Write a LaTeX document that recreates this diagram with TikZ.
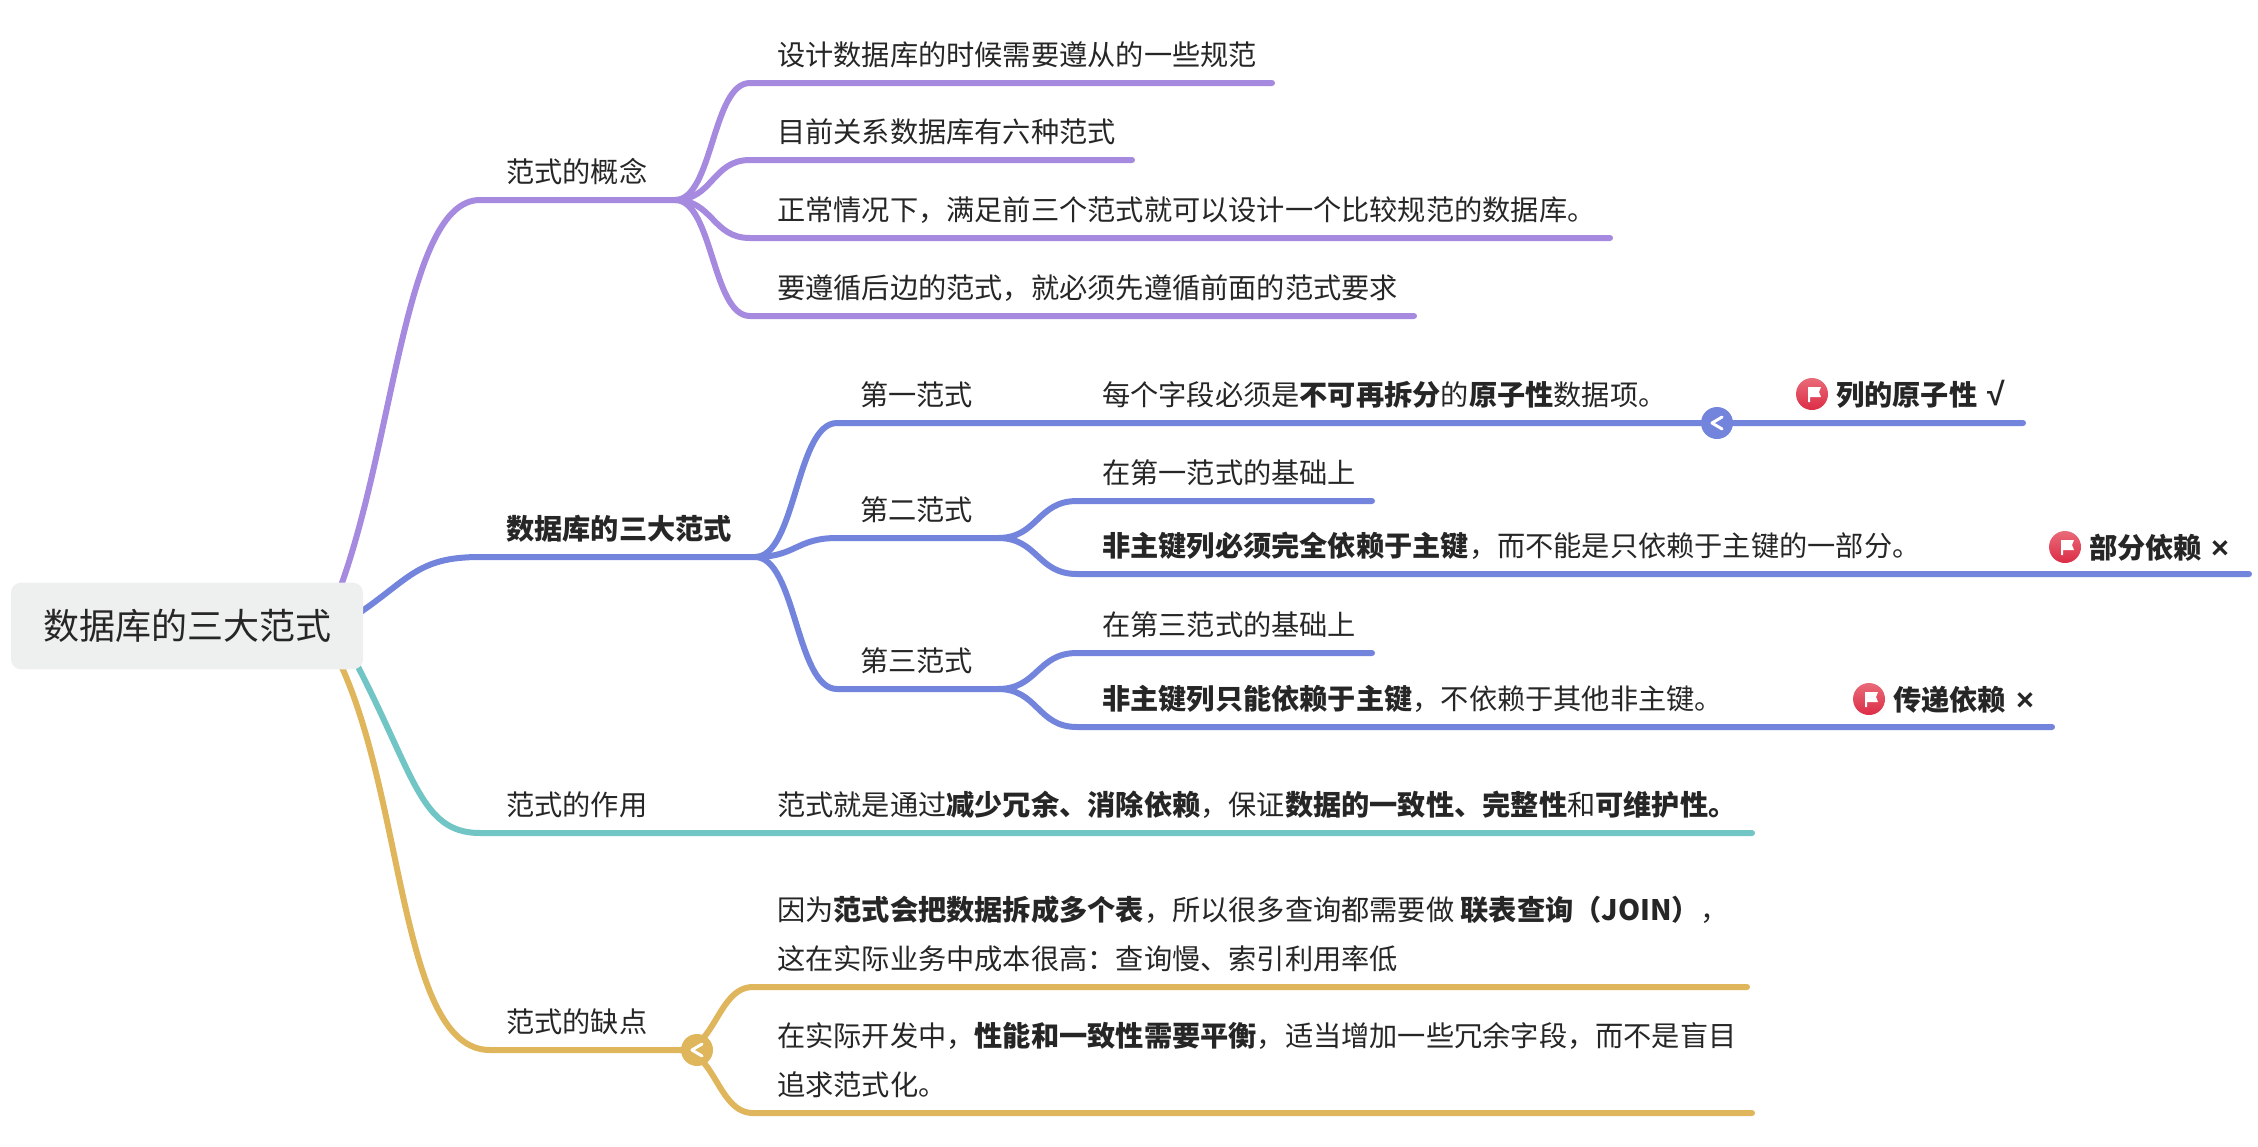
\documentclass[tikz,border=0pt]{standalone}
\usepackage{fontspec}
\setmainfont{Noto Sans CJK SC}
\newfontfamily\markfont{Liberation Sans}
\usetikzlibrary{backgrounds}
\definecolor{purpleline}{HTML}{A58ADF}
\definecolor{blueline}{HTML}{7284DC}
\definecolor{tealline}{HTML}{71C5C5}
\definecolor{goldline}{HTML}{DFB65C}
\definecolor{rootfill}{HTML}{EEF0F0}
\definecolor{inkcolor}{HTML}{262626}
\definecolor{flagtop}{HTML}{E96B79}
\definecolor{flagbottom}{HTML}{DC2C46}
\tikzset{
    branch/.style={line width=4.5pt, line cap=round},
    label/.style={anchor=base west, inner sep=0pt, text=inkcolor, font=\fontsize{21.16}{36.75}\selectfont},
    rootbox/.style={fill=rootfill, rounded corners=7.5pt, minimum width=264pt, minimum height=65pt, inner sep=0pt, text=inkcolor, font=\fontsize{27}{27}\selectfont},
    foldbutton/.style={circle, minimum size=24pt, inner sep=0pt},
    chevron/.style={white, line width=2.2pt, line cap=round, line join=round},
    flagbadge/.style={circle, minimum size=24pt, inner sep=0pt, top color=flagtop, bottom color=flagbottom},
}
\begin{document}
\begin{tikzpicture}[x=0.75pt, y=-0.75pt]
    \useasboundingbox (0,0) rectangle (2258,1146);

    % Root and fold buttons
    \node[rootbox] (root) at (187,626) {数据库的三大范式};
    \node[foldbutton, fill=blueline] (foldFirst) at (1717,423) {};
    \node[foldbutton, fill=goldline] (foldWeak) at (697,1050) {};
    \foreach \fold in {foldFirst, foldWeak} {
        \draw[chevron] ([shift={(3.8pt,-4.5pt)}]\fold.center) -- ([shift={(-3.8pt,0pt)}]\fold.center) -- ([shift={(3.8pt,4.5pt)}]\fold.center);
    }

    \begin{pgfonlayer}{background}
    % Concept branch
    \coordinate (junctionConcept) at (675,200);
    \draw[branch, purpleline] ([shift={(-18pt,-6pt)}]root.north east) .. controls (395,440) and (405,200) .. (480,200) -- (junctionConcept);
    \node[label] (concept) at (506,182) {范式的概念};
    \foreach \name/\ypos/\xend/\txt in {
        conceptA/83/1272/{设计数据库的时候需要遵从的一些规范},
        conceptB/160/1132/{目前关系数据库有六种范式},
        conceptC/238/1610/{正常情况下，满足前三个范式就可以设计一个比较规范的数据库。},
        conceptD/316/1414/{要遵循后边的范式，就必须先遵循前面的范式要求}} {
        \coordinate (s\name) at (750,\ypos);
        \coordinate (e\name) at (\xend,\ypos);
        \draw[branch, purpleline] (junctionConcept) .. controls +(38,0) and +(-38,0) .. (s\name) -- (e\name);
        \node[label] (\name) at (777,{\ypos-18}) {\txt};
    }

    % Three forms branch
    \coordinate (junctionForms) at (755,557);
    \draw[branch, blueline] ([shift={(-10pt,5pt)}]root.east) .. controls (410,580) and (415,557) .. (480,557) -- (junctionForms);
    \node[label] (forms) at (506,539) {\textbf{数据库的三大范式}};

    \coordinate (startFirst) at (837,423);
    \coordinate (endFirst) at (2023,423);
    \draw[branch, blueline] (junctionForms) .. controls +(41,0) and +(-41,0) .. (startFirst) -- (foldFirst) -- (endFirst);
    \node[label] (first) at (860,405) {第一范式};
    \node[label] (firstText) at (1102,405) {每个字段必须是\textbf{不可再拆分}的\textbf{原子性}数据项。};

    \foreach \name/\ypos/\txt in {second/538/第二范式, third/689/第三范式} {
        \coordinate (start\name) at (837,\ypos);
        \coordinate (junction\name) at (998,\ypos);
        \draw[branch, blueline] (junctionForms) .. controls +(41,0) and +(-41,0) .. (start\name) -- (junction\name);
        \node[label] (\name) at (860,{\ypos-18}) {\txt};
    }
    \foreach \name/\parent/\ypos/\xend/\txt in {
        secondA/second/501/1372/{在第一范式的基础上},
        secondB/second/574/2249/{\textbf{非主键列必须完全依赖于主键}，而不能是只依赖于主键的一部分。},
        thirdA/third/653/1372/{在第三范式的基础上},
        thirdB/third/727/2052/{\textbf{非主键列只能依赖于主键}，不依赖于其他非主键。}} {
        \coordinate (s\name) at (1077,\ypos);
        \coordinate (e\name) at (\xend,\ypos);
        \draw[branch, blueline] (junction\parent) .. controls +(40,0) and +(-40,0) .. (s\name) -- (e\name);
        \node[label] (\name) at (1102,{\ypos-18}) {\txt};
    }

    % Role branch
    \coordinate (startRole) at (480,833);
    \coordinate (endRole) at (1752,833);
    \draw[branch, tealline] ([shift={(-8pt,10pt)}]root.south east) .. controls (415,775) and (420,833) .. (startRole) -- (endRole);
    \node[label] (role) at (506,815) {范式的作用};
    \node[label] (roleText) at (777,815) {范式就是通过\textbf{减少冗余、消除依赖}，保证\textbf{数据的一致性、完整性}和\textbf{可维护性。}};

    % Weakness branch
    \coordinate (junctionWeak) at (680,1050);
    \draw[branch, goldline] ([shift={(-18pt,6pt)}]root.south east) .. controls (405,800) and (400,1050) .. (490,1050) -- (foldWeak);
    \node[label] (weak) at (506,1032) {范式的缺点};
    \foreach \name/\ypos/\xend/\txt in {
        weakA/987/1747/{因为\textbf{范式会把数据拆成多个表}，所以很多查询都需要做 \textbf{联表查询（JOIN）}，\\这在实际业务中成本很高：查询慢、索引利用率低},
        weakB/1113/1752/{在实际开发中，\textbf{性能和一致性需要平衡}，适当增加一些冗余字段，而不是盲目\\追求范式化。}} {
        \coordinate (s\name) at (753,\ypos);
        \coordinate (e\name) at (\xend,\ypos);
        \draw[branch, goldline] (junctionWeak) .. controls +(35,0) and +(-35,0) .. (s\name) -- (e\name);
        \node[label, align=left, anchor=south west] (\name) at (777,{\ypos-15}) {\txt};
    }
    \end{pgfonlayer}

    % Flag badges with their tags
    \foreach \name/\xpos/\ypos/\word/\sign/\signsize/\xsign in {
        atomic/1812/394/列的原子性/√/24/1996,
        partial/2065/547/部分依赖/×/23/2220,
        transit/1869/699/传递依赖/×/23/2025} {
        \node[flagbadge] (flag\name) at (\xpos,\ypos) {};
        \fill[white] ([shift={(-3pt,5.25pt)}]flag\name.center) -- ++(9.75pt,0pt) -- ++(-1.5pt,-3.75pt) -- ++(1.5pt,-3.75pt) -- ++(-8.25pt,0pt) -- ++(0pt,-3.75pt) -- ++(-1.5pt,0pt) -- cycle;
        \node[label] (tag\name) at ({\xpos+24},{\ypos+11}) {\textbf{\word}};
        \node[label, anchor=base] (sign\name) at (\xsign,{\ypos+11}) {\markfont\bfseries\fontsize{\signsize}{\signsize}\selectfont\sign};
    }
\end{tikzpicture}
\end{document}
